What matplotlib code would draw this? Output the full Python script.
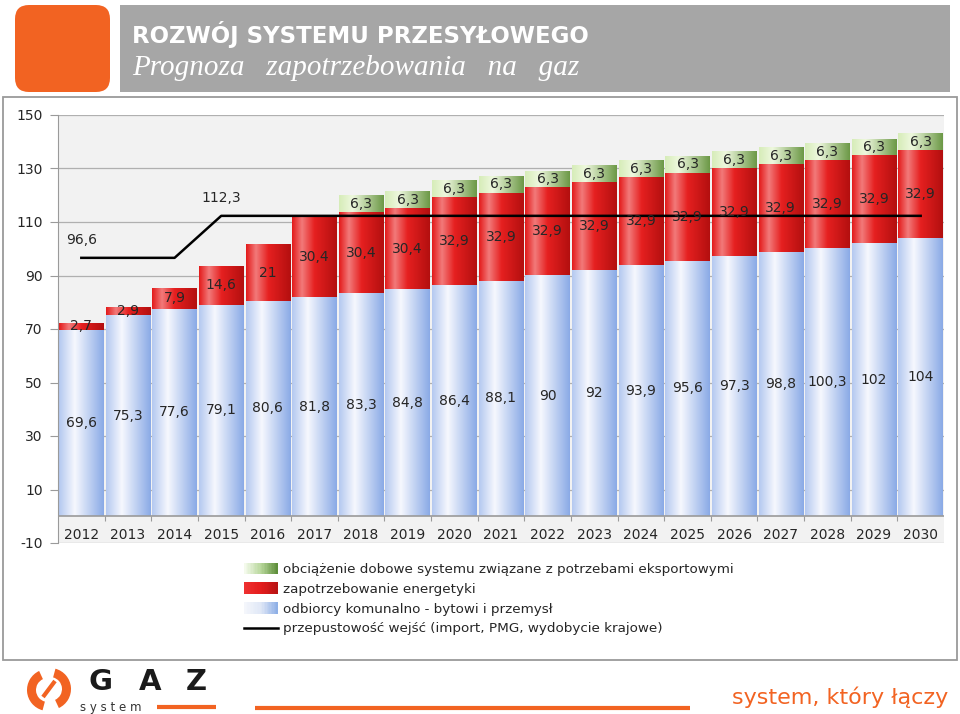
import numpy as np
import matplotlib
matplotlib.use("Agg")
import matplotlib.pyplot as plt
from matplotlib.colors import LinearSegmentedColormap
from matplotlib.patches import Rectangle, FancyBboxPatch, Wedge
from matplotlib.legend_handler import HandlerBase

plt.rcParams["axes.unicode_minus"] = False

# ---- data ----
years = [str(y) for y in range(2012, 2031)]
komunalne = [69.6, 75.3, 77.6, 79.1, 80.6, 81.8, 83.3, 84.8, 86.4, 88.1,
             90, 92, 93.9, 95.6, 97.3, 98.8, 100.3, 102, 104]
energetyka = [2.7, 2.9, 7.9, 14.6, 21, 30.4, 30.4, 30.4, 32.9, 32.9,
              32.9, 32.9, 32.9, 32.9, 32.9, 32.9, 32.9, 32.9, 32.9]
eksport = [0, 0, 0, 0, 0, 0, 6.3, 6.3, 6.3, 6.3,
           6.3, 6.3, 6.3, 6.3, 6.3, 6.3, 6.3, 6.3, 6.3]
przepustowosc = [96.6, 96.6, 96.6, 112.3, 112.3, 112.3, 112.3, 112.3, 112.3, 112.3,
                 112.3, 112.3, 112.3, 112.3, 112.3, 112.3, 112.3, 112.3, 112.3]
line_label_idx = [0, 3]

legend_labels = [
    "obciążenie dobowe systemu związane z potrzebami eksportowymi",
    "zapotrzebowanie energetyki",
    "odbiorcy komunalno - bytowi i przemysł",
    "przepustowość wejść (import, PMG, wydobycie krajowe)",
]

ORANGE = "#f26322"
TXT = "#262626"

blue_cm = LinearSegmentedColormap.from_list(
    "b", [(0, "#b4c8f0"), (0.35, "#f6f8fe"), (1, "#8aaae6")])
red_cm = LinearSegmentedColormap.from_list(
    "r", [(0, "#e31a1a"), (0.22, "#f27a7a"), (0.5, "#e62020"), (1, "#b30f0f")])
green_cm = LinearSegmentedColormap.from_list(
    "g", [(0, "#d6ecb8"), (0.3, "#eef8de"), (1, "#6c9846")])

blue_leg = LinearSegmentedColormap.from_list("bl", ["#f4f6fb", "#dfe7f6", "#8fb0e6"])
red_leg = LinearSegmentedColormap.from_list("rl", ["#ee3030", "#e41c1c", "#b81414"])
green_leg = LinearSegmentedColormap.from_list("gl", ["#f4faec", "#b7d69a", "#5f8f3c"])


def gradient_fill(ax, bars, cmap):
    grad = np.linspace(0, 1, 128).reshape(1, -1)
    for b in bars:
        h = b.get_height()
        if h <= 0:
            continue
        x0, y0, w = b.get_x(), b.get_y(), b.get_width()
        im = ax.imshow(grad, cmap=cmap, aspect="auto", origin="lower",
                       extent=(x0, x0 + w, y0, y0 + h), zorder=2,
                       interpolation="bilinear")
        im.set_clip_path(b)
        b.set_facecolor("none")


class HandlerGradient(HandlerBase):
    def __init__(self, cmap):
        super().__init__()
        self.cmap = cmap

    def create_artists(self, legend, orig_handle, xdescent, ydescent,
                       width, height, fontsize, trans):
        n = 24
        out = []
        for k in range(n):
            r = Rectangle((-xdescent + k * width / n, -ydescent - 1), width / n + 0.3,
                          height + 2, facecolor=self.cmap(k / (n - 1)),
                          edgecolor="none", transform=trans)
            out.append(r)
        return out


fig = plt.figure(figsize=(9.6, 7.14), dpi=100)

# ---- slide decoration (pixel coordinates) ----
deco = fig.add_axes([0, 0, 1, 1], zorder=0)
deco.set_xlim(0, 960)
deco.set_ylim(714, 0)
deco.axis("off")

deco.add_patch(FancyBboxPatch((15, 5), 95, 87, boxstyle="round,pad=0,rounding_size=14",
                              facecolor=ORANGE, edgecolor="none"))
deco.add_patch(Rectangle((120, 5), 830, 87, facecolor="#a6a6a6", edgecolor="none"))
deco.text(132, 34, "ROZWÓJ SYSTEMU PRZESYŁOWEGO", color="white", fontsize=16.5,
          fontweight="bold", va="center", ha="left", family="DejaVu Sans")
deco.text(132, 68, "Prognoza   zapotrzebowania   na   gaz", color="white", fontsize=21,
          style="italic", va="center", ha="left", family="Liberation Serif")

deco.add_patch(Rectangle((3, 97), 954, 563, facecolor="white",
                         edgecolor="#9a9a9a", lw=1.3))

# footer
deco.add_patch(Wedge((48, 690), 21, 105, 245, width=9, facecolor=ORANGE, edgecolor="none"))
deco.add_patch(Wedge((50, 689), 21, 285, 65, width=9, facecolor=ORANGE, edgecolor="none"))
deco.plot([43, 55], [697, 681], color=ORANGE, lw=3, solid_capstyle="butt")
for ch, xx in zip("GAZ", [100, 150, 196]):
    deco.text(xx, 682, ch, fontsize=21, fontweight="heavy", color="#1a1a1a",
              ha="center", va="center", family="DejaVu Sans")
deco.text(80, 707, "s y s t e m", fontsize=8.5, color="#333333", ha="left", va="center")
deco.plot([157, 216], [707, 707], color=ORANGE, lw=3, solid_capstyle="butt")
deco.plot([255, 690], [708, 708], color=ORANGE, lw=3, solid_capstyle="butt")
deco.text(948, 697, "system, który łączy", color=ORANGE, fontsize=16,
          ha="right", va="center", family="DejaVu Sans")

# ---- chart ----
ax = fig.add_axes([58 / 960, 1 - 543 / 714, (944 - 58) / 960, (543 - 115) / 714], zorder=1)
ax.set_facecolor("#f2f2f2")

x = np.arange(len(years))
kom = np.array(komunalne)
ene = np.array(energetyka)
eks = np.array(eksport)
width = 0.955

b1 = ax.bar(x, kom, width, zorder=2, edgecolor="none")
b2 = ax.bar(x, ene, width, bottom=kom, zorder=2, edgecolor="none")
b3 = ax.bar(x, eks, width, bottom=kom + ene, zorder=2, edgecolor="none")
gradient_fill(ax, b1, blue_cm)
gradient_fill(ax, b2, red_cm)
gradient_fill(ax, b3, green_cm)

ax.plot(x, przepustowosc, color="black", lw=1.8, zorder=4)

lab_kw = dict(ha="center", va="center", fontsize=10, color=TXT, zorder=5)
for i in range(len(years)):
    ax.text(x[i], kom[i] / 2, f"{komunalne[i]:g}".replace(".", ","), **lab_kw)
    ax.text(x[i], kom[i] + ene[i] / 2, f"{energetyka[i]:g}".replace(".", ","), **lab_kw)
    if eks[i] > 0:
        ax.text(x[i], kom[i] + ene[i] + eks[i] / 2, f"{eksport[i]:g}".replace(".", ","), **lab_kw)
    ax.text(x[i], -7.0, years[i], ha="center", va="center", fontsize=10, color=TXT, zorder=5)
for i in line_label_idx:
    ax.annotate(f"{przepustowosc[i]:g}".replace(".", ","), (x[i], przepustowosc[i]),
                xytext=(0, 13), textcoords="offset points", ha="center", va="center",
                fontsize=10, color=TXT, zorder=5)

# category axis at zero
ax.axhline(0, color="#9a9a9a", lw=1.2, zorder=3)
ax.vlines(x[:-1] + 0.5, -1.6, 0, color="#9a9a9a", lw=0.8, zorder=3)

ax.set_xlim(-0.5, len(years) - 0.5)
ax.set_ylim(-10, 150)
ax.set_yticks(np.arange(-10, 151, 20))
ax.set_xticks([])
ax.yaxis.grid(True, color="#b0b0b0", lw=0.9, zorder=1)
ax.set_axisbelow(True)
ax.tick_params(axis="y", length=6, color="#9a9a9a", labelsize=10, labelcolor=TXT, pad=5)
for s in ["top", "right", "bottom"]:
    ax.spines[s].set_visible(False)
ax.spines["left"].set_color("#9a9a9a")

# ---- legend ----
handles = [Rectangle((0, 0), 1, 1) for _ in range(3)]
line_h, = ax.plot([], [], color="black", lw=1.8)
hmap = {handles[0]: HandlerGradient(green_leg),
        handles[1]: HandlerGradient(red_leg),
        handles[2]: HandlerGradient(blue_leg)}
fig.legend(handles + [line_h], legend_labels, handler_map=hmap,
           loc="upper left", bbox_to_anchor=(232 / 960, 1 - 551 / 714),
           frameon=False, fontsize=9.7, handlelength=2.5, handleheight=0.6,
           handletextpad=0.35, labelspacing=0.5, labelcolor=TXT)

fig.savefig("out.png", dpi=100)
